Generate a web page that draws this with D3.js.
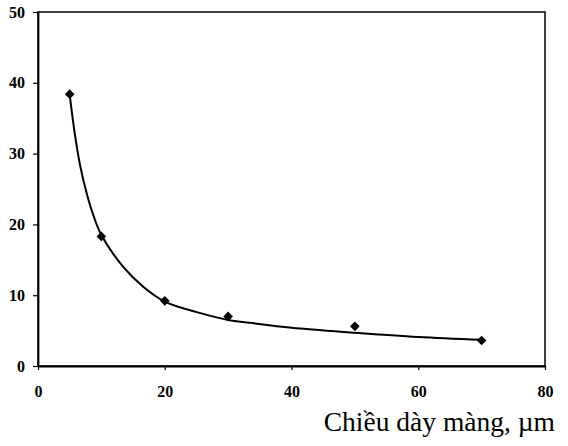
<!DOCTYPE html>
<html><head><meta charset="utf-8">
<script src="https://cdn.jsdelivr.net/npm/d3@7"></script>
<style>body{margin:0;background:#fff}svg{display:block}</style>
</head><body>
<script>
const xVals = [5, 10, 20, 30, 50, 70];
const yVals = [38.4, 18.3, 9.2, 7.0, 5.6, 3.6];
const trendX = [5, 5.84, 6.63, 7.68, 8.73, 10, 13.45, 16.6, 20, 25.5, 30, 33.4, 40, 50, 60, 70];
const trendY = [38.3, 32.6, 28.4, 24.4, 21.3, 18.5, 14.0, 11.2, 9.1, 7.5, 6.5, 6.1, 5.4, 4.7, 4.1, 3.7];
const xTicks = [0, 20, 40, 60, 80];
const yTicks = [0, 10, 20, 30, 40, 50];
const xTitle = "Chiều dày màng, µm";

const W = 568, H = 446;
const svg = d3.select("body").append("svg").attr("width", W).attr("height", H);
const x = d3.scaleLinear().domain([0, 80]).range([38, 545]);
const y = d3.scaleLinear().domain([0, 50]).range([366, 12]);

svg.append("rect").attr("x", x(0)).attr("y", y(50)).attr("width", x(80) - x(0)).attr("height", y(0) - y(50))
  .attr("fill", "none").attr("stroke", "#000").attr("stroke-width", 1.5);

const tickFont = "'Liberation Serif', 'Times New Roman', serif";
const xa = svg.append("g").attr("transform", `translate(0,${y(0)})`)
  .call(d3.axisBottom(x).tickValues(xTicks).tickSize(4).tickSizeOuter(0).tickPadding(16));
const ya = svg.append("g").attr("transform", `translate(${x(0)},0)`)
  .call(d3.axisLeft(y).tickValues(yTicks).tickSize(5).tickSizeOuter(0).tickPadding(8));
[xa, ya].forEach(g => {
  g.select(".domain").attr("stroke", "#000").attr("stroke-width", 1.8);
  g.selectAll(".tick line").attr("stroke", "#000").attr("stroke-width", 1.2);
  g.selectAll(".tick text").attr("fill", "#000").style("font-family", tickFont)
    .style("font-weight", "bold").style("font-size", "16px");
});

const line = d3.line().x(d => x(d[0])).y(d => y(d[1])).curve(d3.curveCatmullRom.alpha(0.5));
svg.append("path").datum(d3.zip(trendX, trendY)).attr("d", line)
  .attr("fill", "none").attr("stroke", "#000").attr("stroke-width", 2);

svg.append("g").selectAll("path").data(d3.zip(xVals, yVals)).join("path")
  .attr("d", d3.symbol(d3.symbolDiamond2, 60))
  .attr("transform", d => `translate(${x(d[0])},${y(d[1])})`)
  .attr("fill", "#000");

svg.append("text").attr("x", 555).attr("y", 431).attr("text-anchor", "end")
  .style("font-family", tickFont).style("font-size", "27.5px").attr("fill", "#000").text(xTitle);
</script>
</body></html>
